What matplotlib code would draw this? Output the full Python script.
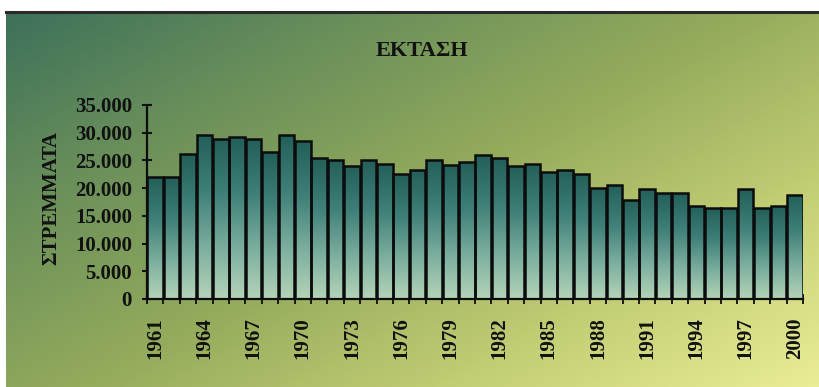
import numpy as np
import matplotlib
matplotlib.use("Agg")
import matplotlib.pyplot as plt
from matplotlib.colors import LinearSegmentedColormap
from matplotlib.lines import Line2D
from matplotlib.ticker import FuncFormatter, FixedLocator

# Cultivated area per year (stremmata)
years = list(range(1961, 2001))
area = [22000, 22000, 26100, 29600, 28800, 29200, 28900, 26500, 29600, 28500,
        25400, 25100, 24000, 25100, 24400, 22500, 23300, 25100, 24200, 24700,
        26000, 25400, 24000, 24400, 23000, 23300, 22500, 20100, 20600, 17900,
        19900, 19100, 19200, 16800, 16400, 16400, 19800, 16400, 16700, 18800]
label_years = list(range(1961, 2001, 3))
y_ticks = [0, 5000, 10000, 15000, 20000, 25000, 30000, 35000]

title = "ΕΚΤΑΣΗ"
ylabel = "ΣΤΡΕΜΜΑΤΑ"

W, H = 819, 387
fig = plt.figure(figsize=(W / 100, H / 100), dpi=100)
fig.patch.set_facecolor("white")
plt.rcParams["font.family"] = ["Liberation Serif", "DejaVu Serif"]
plt.rcParams["font.weight"] = "bold"

# Panel background: diagonal teal -> olive -> pale yellow wash
bg_ax = fig.add_axes([6 / W, 0, 1 - 6 / W, 1 - 12 / H], zorder=0)
bg_ax.set_axis_off()
nx, ny = 400, 200
gx = np.linspace(0, 1, nx)[None, :]
gy = np.linspace(0, 1, ny)[:, None]
t = 0.55 * gx + 0.45 * gy
bg_cmap = LinearSegmentedColormap.from_list(
    "bg", [(0.0, "#3e715a"), (0.25, "#6b905a"), (0.5, "#94ab5c"),
           (0.75, "#c2cd74"), (1.0, "#e9ed96")])
bg_ax.imshow(t, cmap=bg_cmap, aspect="auto", extent=[0, 1, 1, 0],
             vmin=0, vmax=1, interpolation="bilinear")
bg_ax.set_xlim(0, 1)
bg_ax.set_ylim(1, 0)

# Dark rule along the top edge of the panel
fig.add_artist(Line2D([6 / W, 1], [1 - 12 / H, 1 - 12 / H],
                      transform=fig.transFigure, color="#2a2a2a", lw=2.2, zorder=5))

# Plot area
ax = fig.add_axes([147 / W, 1 - 299 / H, (803 - 147) / W, (299 - 105) / H], zorder=2)
ax.patch.set_alpha(0)
x = np.arange(len(years))

# Each bar: dark teal at its top fading to pale mint at the base
bar_cmap = LinearSegmentedColormap.from_list(
    "bar", [(0.0, "#225f58"), (0.35, "#3f8078"), (0.7, "#7eb0a0"), (1.0, "#b4d4b8")])
grad = np.linspace(0, 1, 256)[:, None]

bars = ax.bar(x, area, width=0.94, facecolor="none", edgecolor="#0c0c0c",
              linewidth=1.8, zorder=3)
for rect in bars:
    x0 = rect.get_x()
    w = rect.get_width()
    h = rect.get_height()
    im = ax.imshow(grad, cmap=bar_cmap, aspect="auto",
                   extent=[x0, x0 + w, 0, h], origin="upper", zorder=2,
                   interpolation="bilinear")
    im.set_clip_path(rect)
ax.set_xlim(-0.5, len(years) - 0.5)
ax.set_ylim(0, 35000)

for s in ["top", "right"]:
    ax.spines[s].set_visible(False)
for s in ["left", "bottom"]:
    ax.spines[s].set_linewidth(1.6)
    ax.spines[s].set_color("#0c0c0c")
    ax.spines[s].set_zorder(4)

# Y axis
ax.set_yticks(y_ticks)
ax.yaxis.set_major_formatter(FuncFormatter(
    lambda v, p: "0" if v == 0 else f"{int(v):,}".replace(",", ".")))
ax.tick_params(axis="y", direction="inout", length=7.5, width=1.5,
               pad=7, labelsize=15, colors="#111111")

# X axis: labels every third year, tick marks between bars
ax.xaxis.set_major_locator(FixedLocator([years.index(yv) for yv in label_years]))
ax.set_xticklabels([str(yv) for yv in label_years], rotation=90,
                   fontsize=15, fontweight="bold")
ax.tick_params(axis="x", which="major", length=0, pad=13, colors="#111111")
ax.xaxis.set_minor_locator(FixedLocator(np.arange(-0.5, len(years), 1.0)))
ax.tick_params(axis="x", which="minor", direction="inout", length=7, width=1.3,
               color="#0c0c0c")
for lab in ax.get_yticklabels():
    lab.set_fontweight("bold")

fig.text(422 / W, 1 - 51 / H, title, ha="center", va="center",
         fontsize=16, fontweight="bold", color="#111111")
fig.text(51 / W, 1 - 198 / H, ylabel, ha="center", va="center", rotation=90,
         fontsize=15, fontweight="bold", color="#111111")

fig.savefig("out.png", dpi=100, facecolor=fig.get_facecolor())
